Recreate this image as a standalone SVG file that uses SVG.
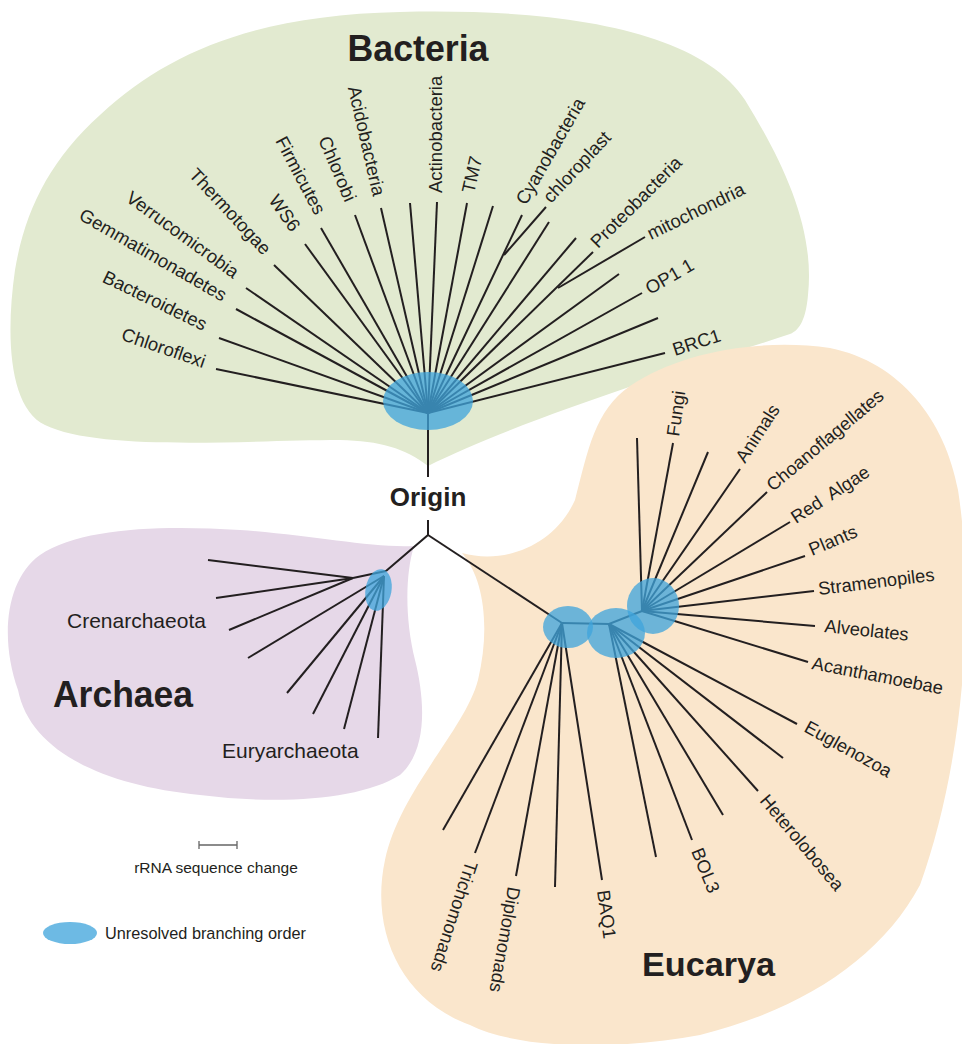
<svg xmlns="http://www.w3.org/2000/svg" width="962" height="1044" viewBox="0 0 962 1044">
<style>
.ln{stroke:#231f20;stroke-width:2;fill:none}
.un{fill:#3fa4dc;opacity:0.76}
.lb{font-family:"Liberation Sans",Arial,sans-serif;font-size:18.5px;fill:#231f20}
.le{font-family:"Liberation Sans",Arial,sans-serif;font-size:18.3px;fill:#231f20}
.la{font-family:"Liberation Sans",Arial,sans-serif;font-size:21px;fill:#231f20}
.tt{font-family:"Liberation Sans",Arial,sans-serif;font-weight:bold;fill:#231f20}
.lg{font-family:"Liberation Sans",Arial,sans-serif;fill:#231f20}
</style>
<rect width="962" height="1044" fill="#ffffff"/>
<g id="regions">
<path id="bacteria-region" fill="#e2ead0" d="M 428,466 C 405,448 380,441 340,440 C 250,440 100,452 45,425 C 10,408 5,340 15,270 C 25,210 50,160 100,115 C 170,50 260,15 400,12 C 560,8 700,30 745,100 C 785,165 815,230 808,295 C 806,318 800,330 790,334 C 680,370 520,420 428,466 Z"/>
<path id="archaea-region" fill="#e6d8e8" d="M 414,546 C 405,575 405,620 415,660 C 425,700 428,750 400,775 C 360,800 280,805 200,795 C 100,785 30,750 18,690 C 0,640 5,580 40,555 C 80,528 160,525 240,530 C 310,535 370,548 414,546 Z"/>
<path id="eucarya-region" fill="#fae6cc" d="M 462,553 C 505,565 555,545 575,500 C 588,450 595,410 630,386 C 680,352 760,338 830,348 C 900,362 945,420 958,490 C 975,600 965,760 920,885 C 880,960 800,1010 700,1035 C 620,1050 520,1050 470,1025 C 400,1000 370,930 385,860 C 400,790 465,730 478,680 C 490,630 485,580 462,553 Z"/>
</g>
<g id="connectors">
<line class="ln" x1="428" y1="413" x2="216" y2="369"/>
<line class="ln" x1="428" y1="413" x2="219" y2="338"/>
<line class="ln" x1="428" y1="413" x2="236" y2="309"/>
<line class="ln" x1="428" y1="413" x2="246" y2="288"/>
<line class="ln" x1="428" y1="413" x2="274" y2="265"/>
<line class="ln" x1="428" y1="413" x2="305" y2="244"/>
<line class="ln" x1="428" y1="413" x2="321" y2="228"/>
<line class="ln" x1="428" y1="413" x2="355" y2="215"/>
<line class="ln" x1="428" y1="413" x2="381" y2="208"/>
<line class="ln" x1="428" y1="413" x2="410" y2="203"/>
<line class="ln" x1="428" y1="413" x2="437" y2="202"/>
<line class="ln" x1="428" y1="413" x2="467" y2="203"/>
<line class="ln" x1="428" y1="413" x2="493" y2="206"/>
<line class="ln" x1="428" y1="413" x2="522" y2="215"/>
<line class="ln" x1="504" y1="255" x2="546" y2="207"/>
<line class="ln" x1="428" y1="413" x2="549" y2="222"/>
<line class="ln" x1="428" y1="413" x2="576" y2="238"/>
<line class="ln" x1="428" y1="413" x2="593" y2="252"/>
<line class="ln" x1="558" y1="288" x2="645" y2="237"/>
<line class="ln" x1="428" y1="413" x2="619" y2="274"/>
<line class="ln" x1="428" y1="413" x2="642" y2="293"/>
<line class="ln" x1="428" y1="413" x2="658" y2="318"/>
<line class="ln" x1="428" y1="413" x2="665" y2="353"/>
<line class="ln" x1="428" y1="413" x2="428" y2="477"/>
<polyline class="ln" points="428,520 428,535 386,571"/>
<line class="ln" x1="428" y1="535" x2="562" y2="623"/>
<line class="ln" x1="386" y1="571" x2="353" y2="578"/>
<line class="ln" x1="353" y1="578" x2="208" y2="560"/>
<line class="ln" x1="353" y1="578" x2="216" y2="598"/>
<line class="ln" x1="353" y1="578" x2="229" y2="630"/>
<line class="ln" x1="384" y1="576" x2="248" y2="658"/>
<line class="ln" x1="384" y1="576" x2="287" y2="693"/>
<line class="ln" x1="384" y1="576" x2="313" y2="714"/>
<line class="ln" x1="384" y1="576" x2="344" y2="729"/>
<line class="ln" x1="384" y1="576" x2="378" y2="738"/>
<polyline class="ln" points="562,623 609,624 642,611"/>
<line class="ln" x1="562" y1="623" x2="443" y2="830"/>
<line class="ln" x1="562" y1="623" x2="475" y2="853"/>
<line class="ln" x1="562" y1="623" x2="516" y2="876"/>
<line class="ln" x1="562" y1="623" x2="555" y2="887"/>
<line class="ln" x1="562" y1="623" x2="602" y2="880"/>
<line class="ln" x1="609" y1="624" x2="656" y2="857"/>
<line class="ln" x1="609" y1="624" x2="692" y2="840"/>
<line class="ln" x1="609" y1="624" x2="723" y2="815"/>
<line class="ln" x1="609" y1="624" x2="758" y2="791"/>
<line class="ln" x1="609" y1="624" x2="783" y2="758"/>
<line class="ln" x1="609" y1="624" x2="797" y2="724"/>
<line class="ln" x1="642" y1="611" x2="637" y2="438"/>
<line class="ln" x1="642" y1="611" x2="673" y2="443"/>
<line class="ln" x1="642" y1="611" x2="708" y2="452"/>
<line class="ln" x1="642" y1="611" x2="740" y2="469"/>
<line class="ln" x1="642" y1="611" x2="767" y2="492"/>
<line class="ln" x1="642" y1="611" x2="790" y2="522"/>
<line class="ln" x1="642" y1="611" x2="805" y2="556"/>
<line class="ln" x1="642" y1="611" x2="814" y2="591"/>
<line class="ln" x1="642" y1="611" x2="815" y2="626"/>
<line class="ln" x1="642" y1="611" x2="808" y2="662"/>
</g>
<g id="unresolved">
<ellipse class="un" cx="428" cy="401" rx="45" ry="29"/>
<ellipse class="un" cx="378.5" cy="590" rx="13" ry="21" transform="rotate(10 378.5 590)"/>
<ellipse class="un" cx="568" cy="627" rx="25" ry="21"/>
<ellipse class="un" cx="616" cy="633" rx="29" ry="25"/>
<ellipse class="un" cx="653" cy="606" rx="26" ry="28"/>
</g>
<g id="titles">
<text class="tt" x="418" y="61" font-size="36" text-anchor="middle" textLength="141" lengthAdjust="spacingAndGlyphs">Bacteria</text>
<text class="tt" x="428" y="506" font-size="26" text-anchor="middle">Origin</text>
<text class="tt" x="53" y="707" font-size="36" textLength="140" lengthAdjust="spacingAndGlyphs">Archaea</text>
<text class="tt" x="642" y="976" font-size="34" textLength="133" lengthAdjust="spacingAndGlyphs">Eucarya</text>
</g>
<g id="bacteria-labels">
<g id="n-chloroflexi"><text class="lb" text-anchor="end" transform="translate(203 368) rotate(19)">Chloroflexi</text></g>
<g id="n-bacteroidetes"><text class="lb" text-anchor="end" transform="translate(203 331) rotate(26)">Bacteroidetes</text></g>
<g id="n-gemmatimonadetes"><text class="lb" text-anchor="end" transform="translate(222 302) rotate(30)">Gemmatimonadetes</text></g>
<g id="n-verrucomicrobia"><text class="lb" text-anchor="end" transform="translate(233 279) rotate(36)">Verrucomicrobia</text></g>
<g id="n-thermotogae"><text class="lb" text-anchor="end" transform="translate(263 256) rotate(47)">Thermotogae</text></g>
<g id="n-ws6"><text class="lb" text-anchor="end" transform="translate(291 233) rotate(55)">WS6</text></g>
<g id="n-firmicutes"><text class="lb" text-anchor="end" transform="translate(315 216) rotate(62)">Firmicutes</text></g>
<g id="n-chlorobi"><text class="lb" text-anchor="end" transform="translate(345 203) rotate(67)">Chlorobi</text></g>
<g id="n-acidobacteria"><text class="lb" text-anchor="end" transform="translate(373 197) rotate(77)">Acidobacteria</text></g>
<g id="n-actinobacteria"><text class="lb" transform="translate(442 193) rotate(-90)">Actinobacteria</text></g>
<g id="n-tm7"><text class="lb" transform="translate(474 194) rotate(-77)">TM7</text></g>
<g id="n-cyanobacteria"><text class="lb" transform="translate(526 206) rotate(-60)">Cyanobacteria</text></g>
<g id="n-chloroplast"><text class="lb" transform="translate(551 204) rotate(-47)">chloroplast</text></g>
<g id="n-proteobacteria"><text class="lb" transform="translate(598 249) rotate(-45)">Proteobacteria</text></g>
<g id="n-mitochondria"><text class="lb" transform="translate(651 240) rotate(-26)">mitochondria</text></g>
<g id="n-op11"><text class="lb" transform="translate(650 295) rotate(-30)">OP1 1</text></g>
<g id="n-brc1"><text class="lb" transform="translate(675 356) rotate(-18)">BRC1</text></g>
</g>
<g id="archaea-labels">
<g id="n-crenarchaeota"><text class="la" x="67" y="628">Crenarchaeota</text></g>
<g id="n-euryarchaeota"><text class="la" x="222" y="758">Euryarchaeota</text></g>
</g>
<g id="eucarya-labels">
<g id="n-fungi"><text class="le" transform="translate(679 437) rotate(-82)">Fungi</text></g>
<g id="n-animals"><text class="le" transform="translate(745 464) rotate(-57)">Animals</text></g>
<g id="n-choanoflagellates"><text class="le" transform="translate(773 492) rotate(-40)">Choanoflagellates</text></g>
<g id="n-redalgae"><text class="le" transform="translate(796 524) rotate(-33)" xml:space="preserve">Red  Algae</text></g>
<g id="n-plants"><text class="le" transform="translate(812 556) rotate(-23)">Plants</text></g>
<g id="n-stramenopiles"><text class="le" transform="translate(819 595) rotate(-7)">Stramenopiles</text></g>
<g id="n-alveolates"><text class="le" transform="translate(824 632) rotate(6)">Alveolates</text></g>
<g id="n-acanthamoebae"><text class="le" transform="translate(811 669) rotate(11)">Acanthamoebae</text></g>
<g id="n-euglenozoa"><text class="le" transform="translate(803 731) rotate(29)">Euglenozoa</text></g>
<g id="n-heterolobosea"><text class="le" transform="translate(759 801) rotate(50)">Heterolobosea</text></g>
<g id="n-bol3"><text class="le" transform="translate(691 851) rotate(68)">BOL3</text></g>
<g id="n-baq1"><text class="le" transform="translate(597 891) rotate(82)">BAQ1</text></g>
<g id="n-diplomonads"><text class="le" transform="translate(508 886) rotate(100)">Diplomonads</text></g>
<g id="n-trichomonads"><text class="le" transform="translate(466 860) rotate(108)">Trichomonads</text></g>
</g>
<g id="legend">
<polyline points="199,841 199,849 199,845 237,845 237,841 237,849" fill="none" stroke="#666666" stroke-width="1.3"/>
<text class="lg" x="216" y="873" font-size="15.5" text-anchor="middle">rRNA sequence change</text>
<ellipse class="un" cx="70" cy="933" rx="27" ry="11"/>
<text class="lg" x="105" y="939" font-size="16.3">Unresolved branching order</text>
</g>
</svg>
